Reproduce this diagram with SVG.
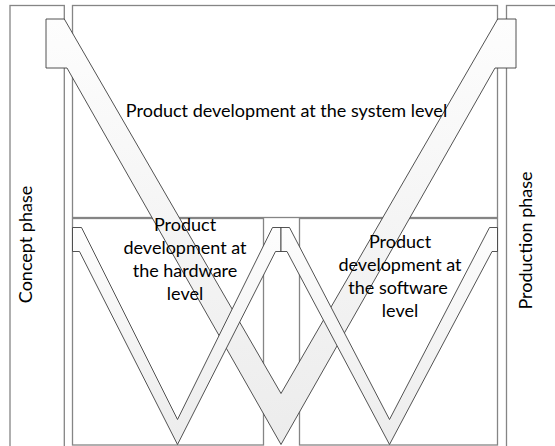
<svg xmlns="http://www.w3.org/2000/svg" width="555" height="446" viewBox="0 0 555 446">
  <defs>
    <linearGradient id="bandFill" x1="0" y1="0" x2="0" y2="1">
      <stop offset="0" stop-color="#fdfdfd"/>
      <stop offset="1" stop-color="#ececec"/>
    </linearGradient>
    <style>
      .frame { fill: #ffffff; stroke: #858585; stroke-width: 1.3; }
      .band { fill: url(#bandFill); stroke: #3f3f3f; stroke-width: 0.9; stroke-linejoin: miter; }
      .label { font-family: Lato, "Liberation Sans", sans-serif; font-size: 18px; fill: #000000; text-anchor: middle; }
    </style>
  </defs>

  <rect width="555" height="446" fill="#ffffff"/>

  <!-- phase columns -->
  <g id="concept-phase">
    <rect class="frame" x="10" y="5.5" width="54.3" height="470"/>
    <text class="label" transform="translate(31.5,244.5) rotate(-90)">Concept phase</text>
  </g>
  <g id="production-phase">
    <rect class="frame" x="506.5" y="5.5" width="80" height="470"/>
    <text class="label" transform="translate(532,240.5) rotate(-90)">Production phase</text>
  </g>

  <!-- development level boxes -->
  <g id="system-level-box">
    <rect class="frame" x="72.5" y="5.5" width="425" height="212"/>
  </g>
  <g id="hardware-level-box">
    <rect class="frame" x="72.5" y="218.5" width="191" height="226.5"/>
  </g>
  <g id="software-level-box">
    <rect class="frame" x="299.5" y="218.5" width="198" height="226.5"/>
  </g>

  <!-- V-model bands -->
  <g id="connectors">
    <polygon id="system-v" class="band"
      points="46,19 64.3,19 281,393.5 497.7,19 516,19 516,68 495,68 281,444.5 67,68 46,68"/>
    <polygon id="hardware-v" class="band"
      points="72.5,227.5 81.5,227.5 177.5,419.5 272.5,227.5 281,227.5 281,251.5 275.5,251.5 177.5,444.5 79.5,251.5 72.5,251.5"/>
    <polygon id="software-v" class="band"
      points="281,227.5 289.5,227.5 389.5,419.5 489.5,227.5 497.5,227.5 497.5,251.5 492,251.5 389.5,444.5 287,251.5 281,251.5"/>
  </g>

  <!-- level captions -->
  <g id="system-level">
    <text class="label" x="286.5" y="116.5">Product development at the system level</text>
  </g>
  <g id="hardware-level">
    <text class="label" x="185" y="231">Product</text>
    <text class="label" x="185" y="254.2">development at</text>
    <text class="label" x="185" y="277.4">the hardware</text>
    <text class="label" x="185" y="299.5">level</text>
  </g>
  <g id="software-level">
    <text class="label" x="400" y="247.7">Product</text>
    <text class="label" x="400" y="270.9">development at</text>
    <text class="label" x="398" y="294">the software</text>
    <text class="label" x="400" y="316.5">level</text>
  </g>
</svg>
